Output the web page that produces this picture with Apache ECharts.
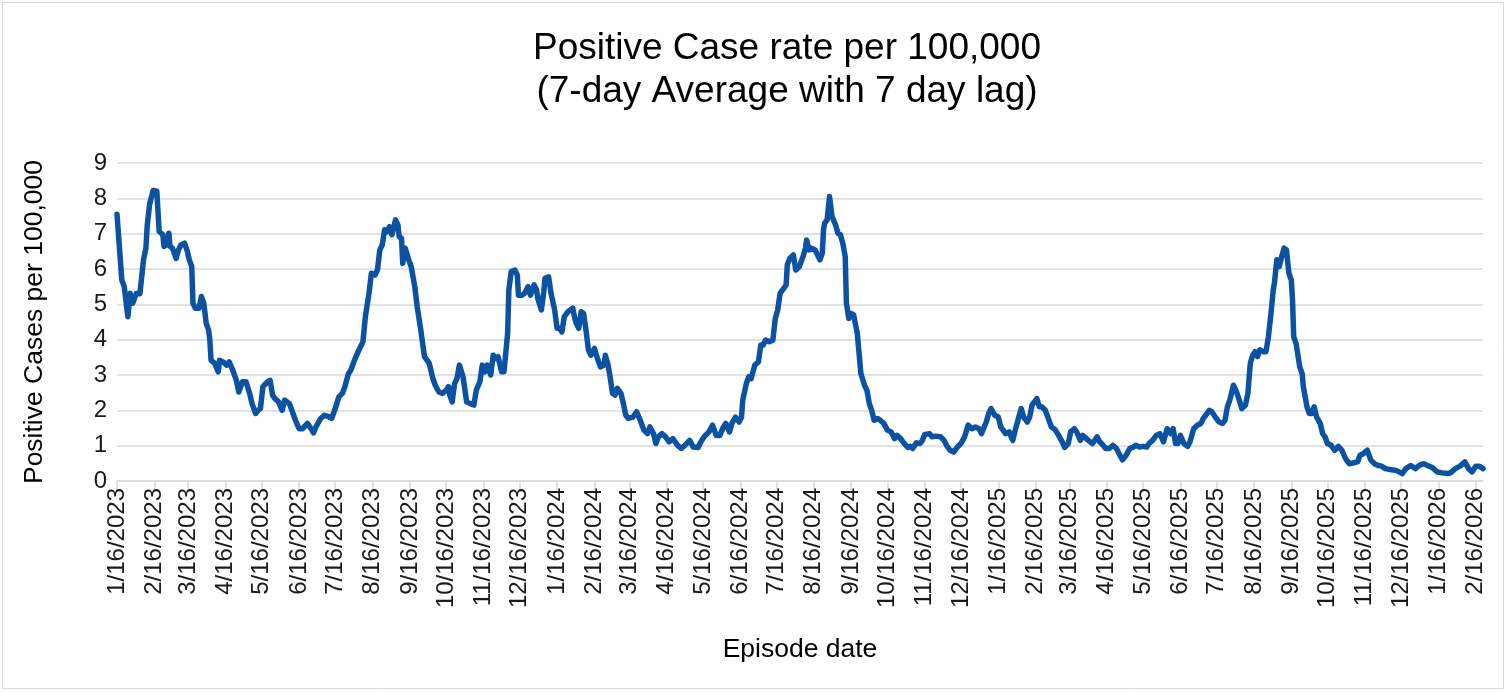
<!DOCTYPE html>
<html>
<head>
<meta charset="utf-8">
<script src="https://cdn.jsdelivr.net/npm/echarts@6/dist/echarts.min.js"></script>
<style>
  html, body { margin: 0; padding: 0; background: #fff; }
  #chart { width: 1507px; height: 692px; }
</style>
</head>
<body>
<div id="chart"></div>
<script>
// ── Data ───────────────────────────────────────────────
// x: days since 1/16/2023, y: 7-day average positive case rate per 100,000
const START_DATE = Date.UTC(2023, 0, 16);
const LAST_DAY   = 1133;

const sampleDay = [
  0, 4, 6, 9, 11, 13, 16, 19, 22, 24, 25, 27, 28, 30, 33, 34, 35, 38, 39, 41,
  43, 44, 46, 49, 51, 53, 56, 58, 60, 62, 63, 65, 68, 70, 72, 74, 76, 77, 78, 81,
  84, 85, 88, 91, 93, 96, 99, 101, 104, 107, 110, 112, 115, 117, 119, 121, 125, 127, 129, 131,
  134, 137, 139, 143, 146, 148, 151, 154, 158, 161, 163, 165, 169, 172, 175, 178, 181, 184, 187, 189,
  192, 194, 197, 200, 202, 204, 206, 209, 211, 214, 216, 218, 220, 222, 224, 226, 228, 231, 233, 234,
  236, 237, 239, 242, 244, 247, 249, 252, 255, 259, 262, 264, 267, 270, 273, 275, 276, 278, 280, 282,
  284, 287, 290, 293, 296, 298, 301, 303, 305, 307, 310, 312, 314, 316, 319, 321, 324, 325, 327, 330,
  332, 333, 336, 338, 341, 343, 346, 348, 349, 352, 354, 355, 358, 360, 363, 365, 367, 369, 371, 374,
  378, 380, 381, 383, 385, 387, 389, 391, 393, 396, 398, 401, 404, 405, 407, 409, 411, 413, 415, 418,
  420, 422, 424, 428, 431, 434, 437, 440, 442, 445, 447, 449, 452, 455, 458, 461, 465, 468, 471, 475,
  478, 482, 485, 488, 491, 494, 497, 500, 503, 505, 508, 510, 513, 516, 518, 519, 522, 524, 526, 529,
  532, 534, 536, 538, 541, 544, 546, 548, 550, 553, 555, 556, 558, 561, 563, 566, 569, 571, 572, 574,
  576, 579, 581, 583, 585, 586, 587, 589, 591, 592, 593, 596, 598, 600, 602, 604, 605, 607, 609, 611,
  614, 617, 620, 622, 624, 626, 628, 631, 633, 636, 639, 642, 645, 647, 650, 653, 656, 658, 660, 663,
  666, 668, 670, 674, 676, 679, 683, 686, 688, 691, 694, 697, 700, 703, 706, 709, 712, 715, 717, 721,
  723, 725, 728, 731, 733, 737, 740, 743, 745, 748, 750, 752, 755, 757, 759, 763, 765, 767, 770, 773,
  775, 778, 781, 784, 786, 789, 791, 794, 796, 799, 801, 804, 807, 809, 811, 813, 815, 818, 820, 823,
  826, 829, 831, 834, 837, 840, 843, 845, 848, 851, 854, 856, 859, 862, 865, 868, 871, 874, 876, 878,
  880, 882, 885, 888, 890, 893, 896, 899, 901, 904, 906, 908, 911, 914, 917, 919, 921, 923, 926, 928,
  930, 933, 936, 938, 940, 942, 944, 946, 948, 951, 953, 955, 957, 959, 960, 962, 964, 966, 968, 970,
  972, 974, 975, 976, 978, 981, 983, 984, 987, 989, 991, 993, 995, 998, 1000, 1002, 1004, 1007, 1010, 1013,
  1016, 1019, 1022, 1025, 1029, 1031, 1034, 1037, 1040, 1043, 1046, 1049, 1052, 1055, 1057, 1061, 1066, 1069, 1073, 1077,
  1080, 1084, 1087, 1091, 1095, 1099, 1104, 1106, 1110, 1114, 1118, 1121, 1124, 1127, 1130, 1133
];

const rate = [
  7.55, 5.69, 5.5, 4.65, 5.31, 5.03, 5.31, 5.3, 6.26, 6.59, 7.2, 7.82, 7.96, 8.22, 8.2, 7.63, 7.06, 6.97, 6.64, 6.68,
  7.01, 6.64, 6.59, 6.3, 6.54, 6.68, 6.73, 6.54, 6.26, 6.07, 5.03, 4.89, 4.89, 5.22, 5.03, 4.46, 4.27, 3.99, 3.42, 3.33,
  3.09, 3.42, 3.37, 3.28, 3.37, 3.14, 2.85, 2.52, 2.81, 2.81, 2.48, 2.19, 1.91, 2.0, 2.05, 2.67, 2.81, 2.85, 2.43, 2.33,
  2.24, 2.0, 2.29, 2.19, 1.91, 1.72, 1.48, 1.48, 1.63, 1.48, 1.36, 1.53, 1.77, 1.86, 1.83, 1.77, 2.05, 2.38, 2.48, 2.67,
  3.04, 3.14, 3.42, 3.66, 3.8, 3.94, 4.65, 5.31, 5.88, 5.83, 5.97, 6.54, 6.68, 7.11, 7.06, 7.2, 6.97, 7.39, 7.25, 6.92,
  6.87, 6.16, 6.59, 6.26, 6.07, 5.5, 4.93, 4.27, 3.52, 3.33, 2.9, 2.71, 2.52, 2.48, 2.57, 2.67, 2.43, 2.24, 2.76, 2.9,
  3.28, 2.95, 2.24, 2.19, 2.15, 2.57, 2.81, 3.28, 3.09, 3.28, 3.0, 3.56, 3.47, 3.52, 3.09, 3.09, 4.18, 5.41, 5.93, 5.97,
  5.83, 5.26, 5.26, 5.31, 5.5, 5.26, 5.55, 5.41, 5.17, 4.84, 5.36, 5.74, 5.78, 5.31, 4.84, 4.32, 4.32, 4.22, 4.65, 4.79,
  4.89, 4.56, 4.46, 4.32, 4.79, 4.74, 4.27, 3.71, 3.56, 3.75, 3.52, 3.23, 3.28, 3.56, 3.33, 2.95, 2.48, 2.43, 2.62, 2.48,
  2.19, 1.86, 1.77, 1.81, 1.96, 1.72, 1.44, 1.34, 1.53, 1.34, 1.06, 1.25, 1.34, 1.25, 1.11, 1.2, 1.01, 0.92, 1.01, 1.15,
  0.96, 0.95, 1.15, 1.29, 1.39, 1.58, 1.29, 1.29, 1.53, 1.63, 1.39, 1.63, 1.81, 1.67, 1.81, 2.29, 2.76, 2.95, 2.9, 3.28,
  3.37, 3.85, 3.85, 3.99, 3.94, 3.99, 4.6, 4.84, 5.31, 5.45, 5.55, 6.12, 6.3, 6.4, 5.97, 6.07, 6.35, 6.59, 6.82, 6.54,
  6.59, 6.54, 6.4, 6.26, 6.45, 7.11, 7.3, 7.39, 8.05, 7.77, 7.49, 7.25, 7.01, 6.97, 6.73, 6.35, 5.03, 4.6, 4.74, 4.7,
  4.18, 3.04, 2.71, 2.57, 2.19, 2.0, 1.72, 1.77, 1.72, 1.63, 1.44, 1.39, 1.2, 1.29, 1.2, 1.06, 0.95, 0.98, 0.92, 1.08,
  1.06, 1.15, 1.32, 1.34, 1.25, 1.27, 1.25, 1.15, 1.01, 0.87, 0.82, 0.96, 1.06, 1.25, 1.58, 1.48, 1.53, 1.48, 1.34, 1.67,
  1.91, 2.05, 1.86, 1.81, 1.53, 1.34, 1.39, 1.15, 1.44, 1.81, 2.05, 1.81, 1.67, 1.81, 2.15, 2.33, 2.1, 2.1, 2.0, 1.72,
  1.53, 1.46, 1.29, 1.11, 0.95, 1.06, 1.39, 1.48, 1.39, 1.15, 1.29, 1.2, 1.11, 1.06, 1.15, 1.25, 1.11, 1.01, 0.92, 0.92,
  1.01, 0.92, 0.78, 0.6, 0.73, 0.92, 0.96, 1.01, 0.96, 0.98, 0.96, 1.06, 1.15, 1.29, 1.34, 1.11, 1.48, 1.34, 1.48, 1.06,
  1.06, 1.29, 1.06, 0.98, 1.11, 1.48, 1.58, 1.63, 1.77, 1.91, 2.0, 1.96, 1.81, 1.67, 1.63, 1.72, 2.1, 2.29, 2.71, 2.57,
  2.38, 2.05, 2.15, 2.48, 3.33, 3.56, 3.66, 3.52, 3.71, 3.66, 3.66, 4.08, 4.7, 5.4, 5.6, 6.26, 6.07, 6.35, 6.59, 6.54,
  5.88, 5.69, 5.12, 4.08, 3.89, 3.23, 3.04, 2.67, 2.1, 1.91, 1.91, 2.1, 1.81, 1.63, 1.34, 1.25, 1.06, 1.01, 0.87, 0.98,
  0.87, 0.63, 0.49, 0.51, 0.54, 0.73, 0.78, 0.87, 0.59, 0.49, 0.44, 0.42, 0.35, 0.33, 0.32, 0.3, 0.21, 0.35, 0.44, 0.35,
  0.44, 0.49, 0.44, 0.38, 0.26, 0.23, 0.21, 0.23, 0.35, 0.42, 0.54, 0.35, 0.26, 0.42, 0.42, 0.35
];

const Y_TICKS = [0, 1, 2, 3, 4, 5, 6, 7, 8, 9];

// ── Build daily categories (labels show the 16th of each month) ──
function fmtDate(dayIdx) {
  const d = new Date(START_DATE + dayIdx * 86400000);
  return (d.getUTCMonth() + 1) + '/' + d.getUTCDate() + '/' + d.getUTCFullYear();
}
const categories = [];
for (let i = 0; i <= LAST_DAY; i++) categories.push(fmtDate(i));

const seriesData = new Array(LAST_DAY + 1).fill(null);
sampleDay.forEach((day, i) => { seriesData[day] = rate[i]; });

const isSixteenth = (idx, val) => val.split('/')[1] === '16';

const FONT      = "'Liberation Sans', Arial, sans-serif";
const GRID_GRAY = '#D9D9D9';
const TEXT      = '#1A1A1A';

// ── Chart ──────────────────────────────────────────────
const chart = echarts.init(document.getElementById('chart'));

chart.setOption({
  backgroundColor: '#FFFFFF',
  animation: false,
  textStyle: { fontFamily: FONT },

  graphic: [{
    type: 'rect',
    shape: { x: 2.5, y: 2.5, width: 1501, height: 686 },
    style: { fill: 'none', stroke: GRID_GRAY, lineWidth: 1 },
    silent: true,
  }],

  title: {
    text: 'Positive Case rate per 100,000\n(7-day Average with 7 day lag)',
    left: 782,
    textAlign: 'center',
    top: 22,
    textStyle: {
      fontFamily: FONT,
      fontSize: 37,
      fontWeight: 'normal',
      color: '#000000',
      lineHeight: 43,
    },
  },

  grid: { left: 117, right: 24, top: 163, bottom: 211 },

  xAxis: {
    type: 'category',
    data: categories,
    boundaryGap: false,
    name: 'Episode date',
    nameLocation: 'middle',
    nameGap: 155,
    nameTextStyle: { fontFamily: FONT, fontSize: 26.5, color: '#000000' },
    axisLine: { lineStyle: { color: GRID_GRAY, width: 1.5 } },
    axisTick: {
      show: true,
      interval: isSixteenth,
      length: 9,
      lineStyle: { color: GRID_GRAY, width: 1.5 },
    },
    axisLabel: {
      interval: isSixteenth,
      rotate: 90,
      margin: 7,
      fontFamily: FONT,
      fontSize: 24,
      color: TEXT,
    },
    splitLine: { show: false },
  },

  yAxis: {
    type: 'value',
    min: Y_TICKS[0],
    max: Y_TICKS[Y_TICKS.length - 1],
    interval: 1,
    name: 'Positive Cases per 100,000',
    nameLocation: 'middle',
    nameGap: 69,
    nameTextStyle: { fontFamily: FONT, fontSize: 26.5, color: '#000000' },
    axisLine: { show: false },
    axisTick: { show: false },
    axisLabel: {
      margin: 10,
      fontFamily: FONT,
      fontSize: 24,
      color: TEXT,
    },
    splitLine: { lineStyle: { color: GRID_GRAY, width: 1.5 } },
  },

  series: [{
    type: 'line',
    data: seriesData,
    connectNulls: true,
    showSymbol: false,
    symbol: 'none',
    smooth: false,
    lineStyle: { color: '#0C52A2', width: 5.5, join: 'round', cap: 'round' },
  }],
});
</script>
</body>
</html>
